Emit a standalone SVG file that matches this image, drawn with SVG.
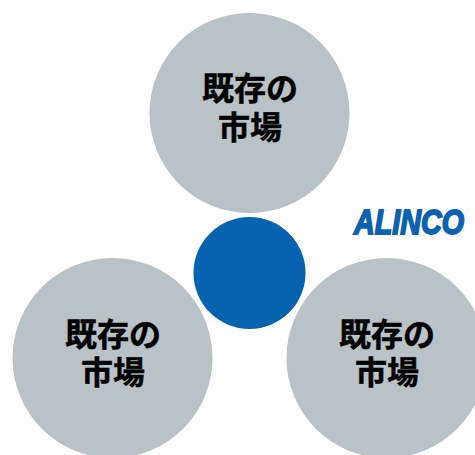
<svg xmlns="http://www.w3.org/2000/svg" width="475" height="455" viewBox="0 0 475 455">
<style>
.m{fill:#b8c2c7}
.c{fill:#0563b0}
.t{font-family:"Noto Sans CJK JP","Noto Sans CJK SC",sans-serif;font-weight:700;font-size:32px;fill:#000;stroke:#000;stroke-width:.5px;text-anchor:middle}
.l{font-family:"Liberation Sans",sans-serif;font-weight:700;font-style:italic;font-size:35px;fill:#0b62b0;stroke:#0b62b0;stroke-width:1.8px;text-anchor:middle}
</style>
<rect width="475" height="455" fill="#fff"/>
<g id="connectors"/>
<g id="top"><circle class="m" cx="249.500" cy="113" r="100"/><text class="t" x="250" y="100">既存の</text><text class="t" x="250" y="139">市場</text></g>
<g id="left"><circle class="m" cx="112.500" cy="358" r="100"/><text class="t" x="113" y="346">既存の</text><text class="t" x="113" y="384">市場</text></g>
<g id="right"><circle class="m" cx="386.500" cy="358" r="100"/><text class="t" x="387" y="346">既存の</text><text class="t" x="387" y="384">市場</text></g>
<g id="center"><circle class="c" cx="249.500" cy="273" r="56"/></g>
<g id="logo"><text class="l" transform="translate(409 234) scale(.82 1)">ALINCO</text></g>
</svg>
